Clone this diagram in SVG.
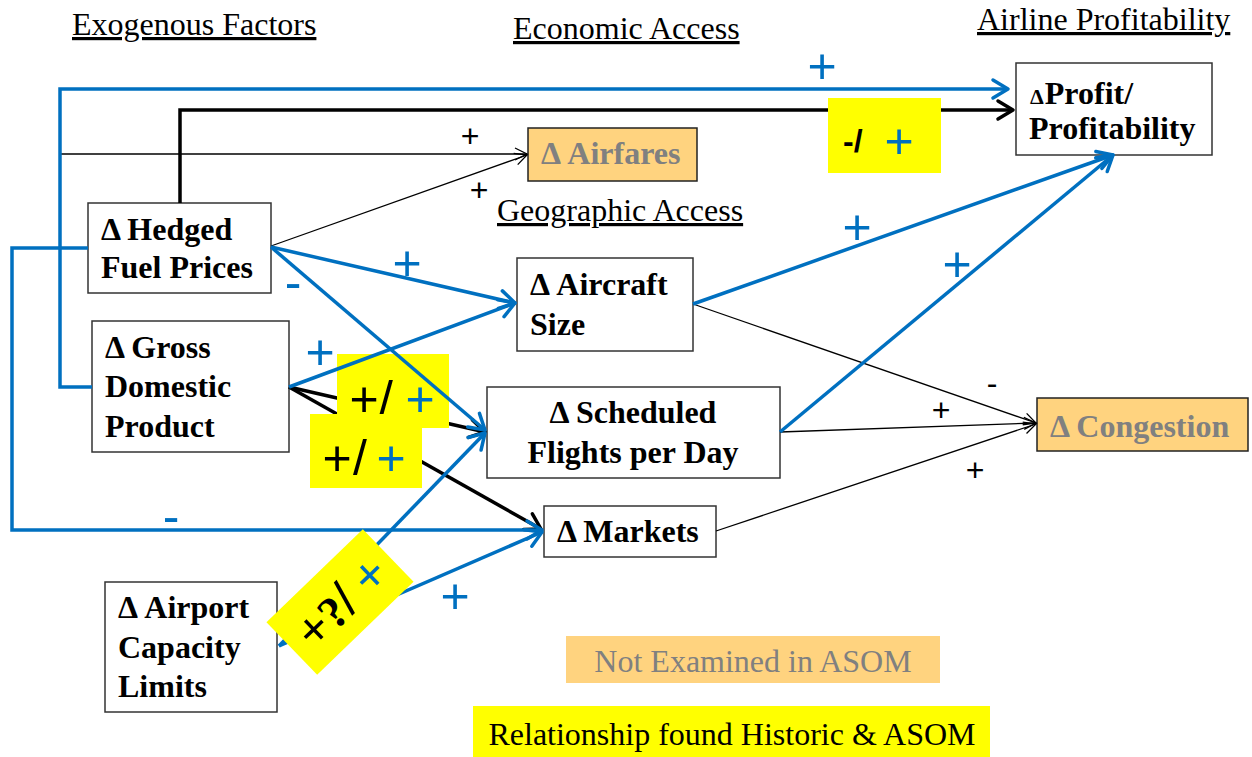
<svg xmlns="http://www.w3.org/2000/svg" width="1252" height="757" viewBox="0 0 1252 757">
<defs>
<style>
.box{fill:#fff;stroke:#333;stroke-width:1.5}
.obox{fill:#FFD37F;stroke:#222;stroke-width:1.5}
.bt{font-family:"Liberation Serif","Times New Roman",serif;font-weight:bold;font-size:32px;fill:#000}
.gt{font-family:"Liberation Serif","Times New Roman",serif;font-weight:bold;font-size:32px;fill:#808080}
.hd{font-family:"Liberation Serif","Times New Roman",serif;font-size:32px;fill:#000;text-decoration:underline}
.lg{font-family:"Liberation Serif","Times New Roman",serif;font-size:32px}
.blue{fill:none;stroke:#0070C0;stroke-width:3.5}
.blk{fill:none;stroke:#000;stroke-width:3.5}
.thin{fill:none;stroke:#000;stroke-width:1.3}
.sb{font-family:"Liberation Sans",Arial,sans-serif;font-size:50px;fill:#0070C0;text-anchor:middle}
.sk{font-family:"Liberation Sans",Arial,sans-serif;font-size:32px;fill:#000;text-anchor:middle}
.sy{font-family:"Liberation Sans",Arial,sans-serif;font-size:50px;fill:#000;text-anchor:middle}
.yl{fill:#FFFF00}
</style>
<marker id="ab" markerUnits="userSpaceOnUse" markerWidth="20" markerHeight="20" refX="15" refY="10" orient="auto" overflow="visible">
<path d="M0,1 L15,10 L0,19" fill="none" stroke="#0070C0" stroke-width="3.5" stroke-linecap="round" stroke-linejoin="round"/>
</marker>
<marker id="ak" markerUnits="userSpaceOnUse" markerWidth="20" markerHeight="20" refX="15" refY="10" orient="auto" overflow="visible">
<path d="M0,1 L15,10 L0,19" fill="none" stroke="#000" stroke-width="3.5" stroke-linecap="round" stroke-linejoin="round"/>
</marker>
<marker id="at" markerUnits="userSpaceOnUse" markerWidth="14" markerHeight="14" refX="12" refY="6" orient="auto" overflow="visible">
<path d="M0,0 L12,6 L0,12" fill="none" stroke="#000" stroke-width="1.3"/>
</marker>
</defs>
<rect width="1252" height="757" fill="#fff"/>

<g id="headers">
<text class="hd" x="72" y="35">Exogenous Factors</text>
<text class="hd" x="513" y="39">Economic Access</text>
<text class="hd" x="977" y="30">Airline Profitability</text>
<text class="hd" x="497" y="221">Geographic Access</text>
</g>

<g id="node-hedged">
<rect class="box" x="88" y="203" width="183" height="90"/>
<text class="bt" x="101" y="240">Δ Hedged</text>
<text class="bt" x="101" y="278">Fuel Prices</text>
</g>
<g id="node-gdp">
<rect class="box" x="92" y="321" width="197" height="131"/>
<text class="bt" x="105" y="358">Δ Gross</text>
<text class="bt" x="105" y="397">Domestic</text>
<text class="bt" x="105" y="437">Product</text>
</g>
<g id="node-airport">
<rect class="box" x="105" y="582" width="172" height="130"/>
<text class="bt" x="118" y="618">Δ Airport</text>
<text class="bt" x="118" y="658">Capacity</text>
<text class="bt" x="118" y="697">Limits</text>
</g>
<g id="node-airfares">
<rect class="obox" x="528" y="128" width="169" height="53"/>
<text class="gt" x="541" y="164">Δ Airfares</text>
</g>
<g id="node-aircraft">
<rect class="box" x="517" y="258" width="176" height="93"/>
<text class="bt" x="530" y="295">Δ Aircraft</text>
<text class="bt" x="530" y="335">Size</text>
</g>
<g id="node-scheduled">
<rect class="box" x="487" y="387" width="293" height="91"/>
<text class="bt" x="633" y="423" text-anchor="middle">Δ Scheduled</text>
<text class="bt" x="633" y="463" text-anchor="middle">Flights per Day</text>
</g>
<g id="node-markets">
<rect class="box" x="544" y="506" width="172" height="51"/>
<text class="bt" x="557" y="542">Δ Markets</text>
</g>
<g id="node-profit">
<rect class="box" x="1016" y="63" width="196" height="92"/>
<text class="bt" x="1030" y="104"><tspan font-size="22">Δ</tspan><tspan dx="1">Profit/</tspan></text>
<text class="bt" x="1029" y="139">Profitability</text>
</g>
<g id="node-congestion">
<rect class="obox" x="1037" y="398" width="211" height="53"/>
<text class="gt" x="1050" y="437">Δ Congestion</text>
</g>

<g id="connectors">
<path class="thin" d="M60,154 H527" marker-end="url(#at)"/>
<path class="thin" d="M271,246 L527,155" marker-end="url(#at)"/>
<path class="thin" d="M693,304 L1036,423" marker-end="url(#at)"/>
<path class="thin" d="M780,432 L1036,423" marker-end="url(#at)"/>
<path class="thin" d="M716,531 L1036,424" marker-end="url(#at)"/>
<path class="blk" d="M180,203 V110 H1013" marker-end="url(#ak)"/>
<path class="blk" d="M289,387 L485,432" marker-end="url(#ak)"/>
<path class="blk" d="M289,387 L541,529" marker-end="url(#ak)"/>
<g id="label-gdp-sched">
<rect class="yl" x="337" y="354" width="112" height="74"/>
<text class="sy" x="364" y="416">+</text><text class="sy" x="386" y="416">/</text><text class="sb" x="420" y="416">+</text>
</g>
<g id="label-gdp-markets">
<rect class="yl" x="310" y="414" width="112" height="74"/>
<text class="sy" x="337" y="475">+</text><text class="sy" x="360" y="475">/</text><text class="sb" x="391" y="475">+</text>
</g>
<path class="blue" d="M92,387 H60 V89 H1008" marker-end="url(#ab)"/>
<path class="blue" d="M88,248 H12 V530 H542" marker-end="url(#ab)"/>
<path class="blue" d="M271,247 L515,303" marker-end="url(#ab)"/>
<path class="blue" d="M271,247 L485,430" marker-end="url(#ab)"/>
<path class="blue" d="M289,387 L515,303" marker-end="url(#ab)"/>
<path class="blue" d="M693,304 L1113,155" marker-end="url(#ab)"/>
<path class="blue" d="M780,432 L1113,155" marker-end="url(#ab)"/>
<path class="blue" d="M279,646 L485,433" marker-end="url(#ab)"/>
<path class="blue" d="M279,646 L542,532" marker-end="url(#ab)"/>
<g id="label-airport" transform="translate(340,602) rotate(-44)">
<rect class="yl" x="-67" y="-36.5" width="134" height="73"/>
<text class="sy" x="-38" y="18">+</text>
<text x="-12" y="18" text-anchor="middle" font-family="Liberation Serif, serif" font-weight="bold" font-size="46">?</text>
<text class="sy" x="6" y="18">/</text>
<text class="sb" x="40" y="18">+</text>
</g>
<g id="label-hedged-profit">
<rect class="yl" x="828" y="98" width="113" height="75"/>
<text x="843" y="152" font-family="Liberation Sans, Arial, sans-serif" font-weight="bold" font-size="32">-/</text>
<text class="sb" x="899" y="158">+</text>
</g>
<g id="signs">
<text class="sb" x="822" y="83">+</text>
<text class="sb" x="407" y="280">+</text>
<text class="sb" x="320" y="369">+</text>
<text class="sb" x="857" y="244">+</text>
<text class="sb" x="957" y="281">+</text>
<text class="sb" x="455" y="613">+</text>
<text class="sb" x="293" y="299">-</text>
<text class="sb" x="171" y="533">-</text>
<text class="sk" x="470" y="147">+</text>
<text class="sk" x="479" y="201">+</text>
<text class="sk" x="941" y="421">+</text>
<text class="sk" x="975" y="481">+</text>
<text class="sk" x="992" y="394" font-size="36">-</text>
</g>
</g>

<g id="legend">
<rect x="566" y="636" width="374" height="47" fill="#FFD37F"/>
<text class="lg" x="753" y="672" text-anchor="middle" fill="#808080">Not Examined in ASOM</text>
<rect x="473" y="706" width="517" height="51" fill="#FFFF00"/>
<text class="lg" x="732" y="745" text-anchor="middle" fill="#000">Relationship found Historic &amp; ASOM</text>
</g>
</svg>
